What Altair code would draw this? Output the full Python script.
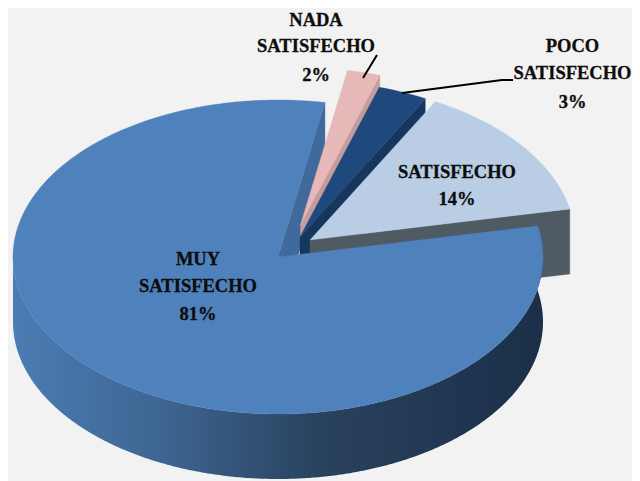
import math
import altair as alt

# ---- values ----
categories = ["MUY SATISFECHO", "NADA SATISFECHO", "POCO SATISFECHO", "SATISFECHO"]
shares = [81, 2, 3, 14]
top_colors = ["#4f81bd", "#e6b9b8", "#1f497d", "#b9cde5"]
wall_colors = ["#3f6a9b", "#c39c9b", "#17365d", "#4f5a63"]
label_lines = [
    ["MUY", "SATISFECHO", "81%"],
    ["NADA", "SATISFECHO", "2%"],
    ["POCO", "SATISFECHO", "3%"],
    ["SATISFECHO", "14%"],
]
label_x = [198, 316, 572.5, 457]
label_y = [[265, 292, 320], [26, 52, 81], [52, 79, 108], [178, 205]]
apex_x = [278, 300.5, 300, 310]
apex_y = [257, 225, 237, 240]

START_DEG = 78.6
RX, RY, DEPTH = 265, 157, 65
OFF = 8  # page margin


def P(x, y):
    return [round(x - OFF, 2), round(y - OFF, 2)]


def edge(i, deg):
    t = math.radians(deg)
    return apex_x[i] + RX * math.sin(t), apex_y[i] - RY * math.cos(t)


def arc(i, a, b, dy=0):
    n = max(2, int(abs(b - a)) * 2)
    out = []
    for k in range(n + 1):
        x, y = edge(i, a + (b - a) * k / n)
        out.append((x, y + dy))
    return out


def feature(points, kind="Polygon"):
    coords = [P(*p) for p in points]
    if kind == "Polygon":
        coords = [coords + [coords[0]]]
    return alt.Data(values=[{"type": "Feature", "properties": {},
                             "geometry": {"type": kind, "coordinates": coords}}])


proj = alt.Projection(type="identity", scale=1, translate=[0, 0])


def shape(points, fill):
    return alt.Chart(feature(points)).mark_geoshape(
        fill=fill, stroke=fill if isinstance(fill, str) else None,
        strokeWidth=0.4 if isinstance(fill, str) else 0
    ).project(**proj.to_dict())


def leader(points):
    return alt.Chart(feature(points, "LineString")).mark_geoshape(
        filled=False, stroke="#000000", strokeWidth=2
    ).project(**proj.to_dict())


# slice angles from the shares
angles = []
a = START_DEG
for s in shares:
    angles.append((a, a + s * 3.6))
    a += s * 3.6

layers = []

# inner wall of the big slice (seen through the gap)
_, end0 = angles[0]
ex, ey = edge(0, end0)
layers.append(shape([(apex_x[0], apex_y[0]), (ex, ey), (ex, ey + DEPTH),
                     (apex_x[0], apex_y[0] + DEPTH)], wall_colors[0]))

# exploded slices, back to front: wall on the clockwise side, then top
for i in [1, 2, 3]:
    s, e = angles[i]
    ex, ey = edge(i, e)
    layers.append(shape([(apex_x[i], apex_y[i]), (ex, ey), (ex, ey + DEPTH),
                         (apex_x[i], apex_y[i] + DEPTH)], wall_colors[i]))
    layers.append(shape([(apex_x[i], apex_y[i])] + arc(i, s, e), top_colors[i]))

# rim and top of the big slice
rim = arc(0, angles[0][0], 270) + arc(0, 270, angles[0][0], DEPTH)
rim_fill = alt.Gradient(
    gradient="linear", x1=0, x2=1, y1=0, y2=0,
    stops=[alt.GradientStop(offset=0, color="#4b7cb3"),
           alt.GradientStop(offset=0.26, color="#3f6795"),
           alt.GradientStop(offset=0.58, color="#29425e"),
           alt.GradientStop(offset=1, color="#1b2f48")],
)
layers.append(shape(rim, rim_fill))
layers.append(shape([(apex_x[0], apex_y[0])] + arc(0, angles[0][0], angles[0][1]), top_colors[0]))

# leader lines
layers.append(leader([(377, 55), (363, 78)]))
layers.append(leader([(513, 80), (502, 80), (402, 93)]))

# labels
rows = []
for lines, x, ys in zip(label_lines, label_x, label_y):
    for line, y in zip(lines, ys):
        rows.append({"t": line, "x": x - OFF, "y": y - OFF})
labels = alt.Chart(alt.Data(values=rows)).mark_text(
    font="Liberation Serif", fontWeight="bold", fontSize=18.5,
    color="#0d0d0d", stroke="#0d0d0d", strokeWidth=0.3,
    align="center", baseline="alphabetic"
).encode(
    x=alt.X("x:Q", scale=None, axis=None),
    y=alt.Y("y:Q", scale=None, axis=None),
    text="t:N",
)
layers.append(labels)

chart = alt.layer(*layers).properties(
    width=624, height=473, background="#f2f2f2",
    padding=0, autosize=alt.AutoSizeParams(type="none"),
).configure_view(stroke=None)

chart.save("out.html", embed_options={"renderer": "svg", "actions": False})
